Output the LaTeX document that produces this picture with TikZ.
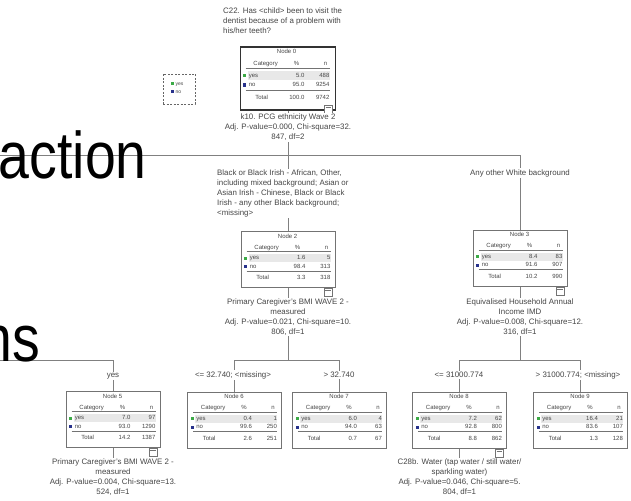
\documentclass[tikz,border=0pt]{standalone}
\usepackage{fontspec}
\setmainfont{Liberation Sans}
\usetikzlibrary{calc}

\definecolor{yescol}{RGB}{60,170,70}
\definecolor{nocol}{RGB}{40,50,140}
\definecolor{inkcol}{RGB}{70,70,70}

% cells of one CHAID node table; #1 node name, #2 title, #3-#8 numbers, #9 scope options
\newcommand\treetable[9]{%
  \begin{scope}[shift={(#1.north west)},#9]
    \fill[black!9] (8,23) rectangle (90,31);
    \node[tabtxt] (#1-title) at (47,5.5) {#2};
    \node[tabtxt] (#1-hc) at (26,16.5) {Category};
    \node[tabtxt] (#1-hp) at (57,16.5) {\%};
    \node[tabtxt] (#1-hn) at (86,16.5) {n};
    \draw[tabrule] (6,20.5) -- (90,20.5);
    \fill[yescol] (3.5,25.5) rectangle (6.5,28.5);
    \node[tabtxt,anchor=west] (#1-yl) at (9,27) {yes};
    \node[tabtxt,anchor=east] (#1-yp) at (65,27) {#3};
    \node[tabtxt,anchor=east] (#1-yn) at (90,27) {#4};
    \fill[nocol] (3.5,34) rectangle (6.5,37);
    \node[tabtxt,anchor=west] (#1-nl) at (9,35.5) {no};
    \node[tabtxt,anchor=east] (#1-np) at (65,35.5) {#5};
    \node[tabtxt,anchor=east] (#1-nn) at (90,35.5) {#6};
    \draw[tabrule] (6,40) -- (90,40);
    \node[tabtxt] (#1-tl) at (22,47) {Total};
    \node[tabtxt,anchor=east] (#1-tp) at (65,47) {#7};
    \node[tabtxt,anchor=east] (#1-tn) at (90,47) {#8};
  \end{scope}}

\begin{document}
\begin{tikzpicture}[x=1pt,y=-1pt,
  tabtxt/.style={font=\fontsize{6}{7}\selectfont, text=inkcol, inner sep=0pt,
                 text height=4.3pt, text depth=1.2pt},
  tabrule/.style={draw=black!55, line width=0.6pt},
  nodebox/.style={draw=black!55, line width=0.8pt, fill=white,
                  minimum width=94pt, minimum height=56pt, inner sep=0pt},
  rootbox/.style={draw=black!80, line width=1.8pt, fill=white,
                  minimum width=95pt, minimum height=63pt, inner sep=0pt},
  expander/.style={draw=black!55, line width=0.6pt, fill=white,
                   minimum size=8pt, inner sep=0pt},
  conn/.style={draw=black!50, line width=0.8pt},
  lbl/.style={font=\fontsize{7.9}{10}\selectfont, text=inkcol, inner sep=1pt,
              fill=white, align=center},
  big/.style={font=\fontsize{66}{66}\selectfont, text=black, inner sep=0pt,
              anchor=base east, xscale=0.84, transform shape}]

\useasboundingbox (0,0) rectangle (631,500);
\clip (0,0) rectangle (631,500);
\fill[white] (0,0) rectangle (631,500);

% tree nodes
\node[rootbox] (n0) at (288,78.5) {};
\node[nodebox] (n2) at (288,259.5) {};
\node[nodebox] (n3) at (520,258) {};
\node[nodebox] (n5) at (113,419.5) {};
\node[nodebox] (n6) at (234.5,420) {};
\node[nodebox] (n7) at (339.5,420) {};
\node[nodebox] (n8) at (459.5,420) {};
\node[nodebox] (n9) at (580.5,420) {};

% branch bars
\coordinate (bar0) at (0,155);
\coordinate (bar1) at (0,360);
\coordinate (bar2) at (0,360);

\draw[conn] (n0.south) -- (n2.north);
\draw[conn] (bar0) -| (n3.north);
\draw[conn] (bar1) -| (n5.north);
\draw[conn] (n2.south) -- (n2.south |- bar2);
\draw[conn] (n6.north) |- (n7.north |- bar2) -- (n7.north);
\draw[conn] (n3.south) -- (n3.south |- bar2);
\draw[conn] (n8.north) |- (n9.north |- bar2) -- (n9.north);
\draw[conn] (n5.south) -- ++(0,12);
\draw[conn] (n8.south) -- ++(0,12);

% redraw boxes over the stems
\node[rootbox] at (n0) {};
\node[nodebox] at (n2) {};
\node[nodebox] at (n3) {};
\node[nodebox] at (n5) {};
\node[nodebox] at (n6) {};
\node[nodebox] at (n7) {};
\node[nodebox] at (n8) {};
\node[nodebox] at (n9) {};

\treetable{n0}{Node 0}{5.0}{488}{95.0}{9254}{100.0}{9742}{xscale=1.0,yscale=1.1}
\treetable{n2}{Node 2}{1.6}{5}{98.4}{313}{3.3}{318}{}
\treetable{n3}{Node 3}{8.4}{83}{91.6}{907}{10.2}{990}{}
\treetable{n5}{Node 5}{7.0}{97}{93.0}{1290}{14.2}{1387}{}
\treetable{n6}{Node 6}{0.4}{1}{99.6}{250}{2.6}{251}{}
\treetable{n7}{Node 7}{6.0}{4}{94.0}{63}{0.7}{67}{}
\treetable{n8}{Node 8}{7.2}{62}{92.8}{800}{8.8}{862}{}
\treetable{n9}{Node 9}{16.4}{21}{83.6}{107}{1.3}{128}{}

% expand/collapse markers of the split nodes
\node[expander] (x0) at ($(n0.south east)+(-8,-1.5)$) {};
\node[expander] (x2) at ($(n2.south east)+(-7.5,4.5)$) {};
\node[expander] (x3) at ($(n3.south east)+(-7.5,4.5)$) {};
\node[expander] (x5) at ($(n5.south east)+(-7.5,4.5)$) {};
\node[expander] (x8) at ($(n8.south east)+(-7.5,4.5)$) {};
\foreach \e in {x0,x2,x3,x5,x8}
  \draw[black!55, line width=0.5pt] ($(\e.north west)+(1.5,2.5)$) -- ($(\e.north east)+(-1.5,2.5)$);

% question above the root
\node[lbl, align=left, anchor=west] (title) at (222,21)
  {\fontsize{7.9}{10.5}\selectfont C22. Has <child> been to visit the\\
   dentist because of a problem with\\ his/her teeth?};

% split variables
\node[lbl] (s0) at (288,127.5)
  {\fontsize{7.9}{9.2}\selectfont k10. PCG ethnicity Wave 2\\
   Adj. P-value=0.000, Chi-square=32.\\ 847, df=2};
\node[lbl] (s2) at (288,317)
  {Primary Caregiver's BMI WAVE 2 -\\ measured\\
   Adj. P-value=0.021, Chi-square=10.\\ 806, df=1};
\node[lbl] (s3) at (520,317)
  {Equivalised Household Annual\\ Income IMD\\
   Adj. P-value=0.008, Chi-square=12.\\ 316, df=1};
\node[lbl] (s5) at (113,477)
  {Primary Caregiver's BMI WAVE 2 -\\ measured\\
   Adj. P-value=0.004, Chi-square=13.\\ 524, df=1};
\node[lbl] (s8) at (459.5,477)
  {C28b. Water (tap water / still water/\\ sparkling water)\\
   Adj. P-value=0.046, Chi-square=5.\\ 804, df=1};

% branch conditions
\node[lbl, align=left, anchor=west] (c2) at (216,193.5)
  {Black or Black Irish - African, Other,\\
   including mixed background; Asian or\\
   Asian Irish - Chinese, Black or Black\\
   Irish - any other Black background;\\ <missing>};
\node[lbl] (c3) at (520,173) {Any other White background};
\node[lbl] (c5) at (113,376) {yes};
\node[lbl] (c6) at (233,375) {<= 32.740; <missing>};
\node[lbl] (c7) at (339,375) {> 32.740};
\node[lbl] (c8) at (459,375) {<= 31000.774};
\node[lbl] (c9) at (578,375) {> 31000.774; <missing>};

% legend
\node[draw=black!60, line width=0.7pt, dash pattern=on 2pt off 1.5pt,
      minimum width=32pt, minimum height=30pt, inner sep=0pt] (legend) at (179,89) {};
\fill[yescol] (170.5,82.5) rectangle (173.5,85.5);
\fill[nocol] (170.5,90.5) rectangle (173.5,93.5);
\node[tabtxt, anchor=west, font=\fontsize{5}{6}\selectfont] (ly) at (175.5,84) {yes};
\node[tabtxt, anchor=west, font=\fontsize{5}{6}\selectfont] (ln) at (175.5,92) {no};

% slide text lying over the tree
\node[big] (wordA) at (147,178) {action};
\node[big] (wordB) at (40,361) {ns};

\end{tikzpicture}
\end{document}
